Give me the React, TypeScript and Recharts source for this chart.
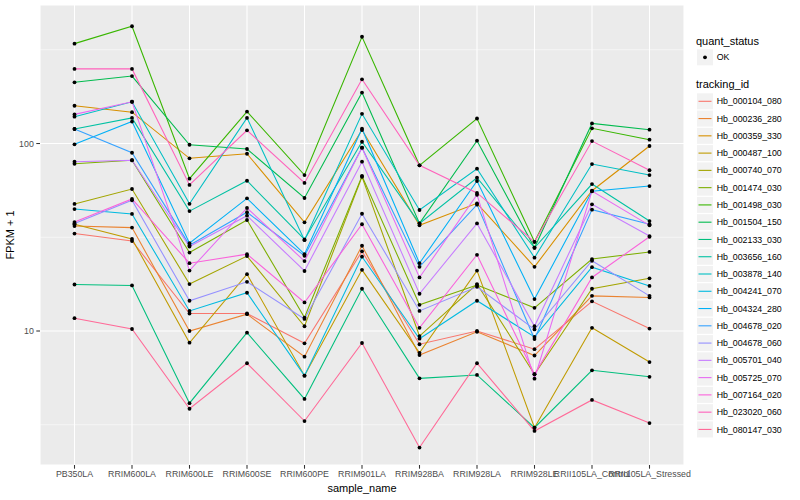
import React from "react";
import { LineChart, Line, XAxis, YAxis, CartesianGrid, ReferenceLine } from "recharts";

const samples = [
  "PB350LA", "RRIM600LA", "RRIM600LE", "RRIM600SE", "RRIM600PE", "RRIM901LA",
  "RRIM928BA", "RRIM928LA", "RRIM928LE", "RRII105LA_Control", "RRII105LA_Stressed",
];

const trackingIds = [
  "Hb_000104_080", "Hb_000236_280", "Hb_000359_330", "Hb_000487_100", "Hb_000740_070",
  "Hb_001474_030", "Hb_001498_030", "Hb_001504_150", "Hb_002133_030", "Hb_003656_160",
  "Hb_003878_140", "Hb_004241_070", "Hb_004324_280", "Hb_004678_020", "Hb_004678_060",
  "Hb_005701_040", "Hb_005725_070", "Hb_007164_020", "Hb_023020_060", "Hb_080147_030",
];

const lineColors = [
  "#F8766D", "#EA8331", "#D89000", "#C09B00", "#A3A500", "#7CAE00", "#39B600", "#00BB4E",
  "#00BF7D", "#00C1A3", "#00BFC4", "#00BAE0", "#00B0F6", "#35A2FF", "#9590FF", "#C77CFF",
  "#E76BF3", "#FA62DB", "#FF62BC", "#FF6A98",
];

// FPKM + 1, one value per sample
const hb000104_080 = [33.1, 30.2, 12.4, 12.4, 8.6, 26.6, 8.5, 10.0, 8.0, 14.4, 10.3];
const hb000236_280 = [36.3, 35.6, 10.0, 12.3, 7.3, 28.5, 7.45, 9.9, 7.4, 15.4, 15.1];
const hb000359_330 = [159, 147, 83.4, 88.2, 38.0, 118, 36.6, 48.0, 22.0, 56.0, 97.0];
const hb000487_100 = [37.1, 31.0, 8.66, 20.1, 5.78, 21.2, 7.65, 21.0, 3.05, 10.4, 6.83];
const hb000740_070 = [47.6, 57.2, 17.8, 25.1, 10.6, 66.5, 9.4, 17.8, 5.88, 16.8, 19.1];
const hb001474_030 = [78.0, 81.4, 26.2, 39.1, 11.8, 67.1, 13.8, 17.6, 13.3, 24.2, 26.4];
const hb001498_030 = [341, 422, 64.9, 148, 67.9, 371, 76.5, 136, 29.9, 120.5, 104.8];
const hb001504_150 = [212, 229, 98.5, 93.5, 51.2, 187, 37.5, 103.5, 27.8, 128, 118.5];
const hb002133_030 = [17.7, 17.5, 4.12, 9.8, 4.34, 16.8, 5.59, 5.83, 3.05, 6.17, 5.7];
const hb003656_160 = [119.5, 137, 43.6, 63.3, 30.8, 102.2, 37.5, 65.7, 27.8, 60.8, 38.6];
const hb003878_140 = [139, 167, 47.7, 137, 30.5, 144, 44.2, 73.4, 24.6, 77.7, 67.9];
const hb004241_070 = [44.7, 42.1, 12.8, 16.0, 5.78, 24.9, 9.1, 14.5, 9.3, 21.9, 17.4];
const hb004324_280 = [99, 131, 29.4, 51, 25.7, 120, 23, 63.1, 14.8, 55.6, 59.3];
const hb004678_020 = [119.5, 89.3, 28.7, 43, 25.2, 95, 22, 47.2, 9.06, 44.4, 37.1];
const hb004678_060 = [37.5, 49.8, 14.5, 18.3, 11.6, 42.2, 12.8, 17.2, 10.2, 23.7, 15.4];
const hb005701_040 = [80, 81.4, 28.2, 41.2, 20.9, 80, 15.8, 37.5, 10.6, 47.4, 32.1];
const hb005725_070 = [143, 167, 21, 45.3, 23.6, 95, 19.3, 53.3, 5.57, 55.8, 36.6];
const hb007164_020 = [38.1, 50.6, 23, 25.7, 14.2, 37.1, 10.4, 25.5, 5.88, 19.3, 31.8];
const hb023020_060 = [250, 250, 60.1, 117.6, 61.6, 220, 76.5, 54.5, 29.9, 103, 72];
const hb080147_030 = [11.7, 10.25, 3.85, 6.73, 3.31, 8.63, 2.39, 6.73, 2.93, 4.29, 3.23];

const seriesValues = [
  hb000104_080, hb000236_280, hb000359_330, hb000487_100, hb000740_070,
  hb001474_030, hb001498_030, hb001504_150, hb002133_030, hb003656_160,
  hb003878_140, hb004241_070, hb004324_280, hb004678_020, hb004678_060,
  hb005701_040, hb005725_070, hb007164_020, hb023020_060, hb080147_030,
];

const majorTicks = [10, 100];
const minorTicks = [3.1623, 31.623, 316.23];

const rows = samples.map((s, i) => {
  const r: Record<string, any> = { sample_name: s };
  trackingIds.forEach((id, k) => {
    r[id] = seriesValues[k][i];
  });
  return r;
});

const FONT = '"Liberation Sans", Arial, Helvetica, sans-serif';

function LegendBox() {
  const rowTop = 93.3;
  const rowStep = 17.27;
  return (
    <svg width={800} height={500} style={{ position: "absolute", left: 0, top: 0, pointerEvents: "none" }}>
      <text x={362} y={492} textAnchor="middle" fontSize={11} fill="#000" fontFamily={FONT}>sample_name</text>
      <text x={0} y={0} transform="translate(14,235) rotate(-90)" textAnchor="middle" fontSize={11} fill="#000" fontFamily={FONT}>FPKM + 1</text>

      <text x={696} y={45} fontSize={11} fill="#000" fontFamily={FONT}>quant_status</text>
      <rect x={697} y={49.3} width={16} height={16} fill="#F2F2F2" />
      <circle cx={705} cy={57.3} r={1.9} fill="#000" />
      <text x={716.7} y={60.4} fontSize={8.8} fill="#000" fontFamily={FONT}>OK</text>

      <text x={696} y={88} fontSize={11} fill="#000" fontFamily={FONT}>tracking_id</text>
      {trackingIds.map((id, k) => {
        const top = rowTop + k * rowStep;
        return (
          <g key={id}>
            <rect x={697} y={top} width={16} height={16} fill="#F2F2F2" />
            <line x1={698.5} x2={711.5} y1={top + 8} y2={top + 8} stroke={lineColors[k]} strokeWidth={1.1} />
            <text x={716.7} y={top + 11.1} fontSize={8.8} fill="#000" fontFamily={FONT}>{id}</text>
          </g>
        );
      })}
    </svg>
  );
}

export default function App() {
  return (
    <div style={{ position: "absolute", left: 0, top: 0, width: 800, height: 500, background: "#fff", fontFamily: FONT }}>
      <LineChart width={800} height={500} data={rows} margin={{ top: 5, right: 116, bottom: 0, left: 0 }}>
        <CartesianGrid fill="#EBEBEB" stroke="#FFFFFF" strokeWidth={1.07} />
        {minorTicks.map((v) => (
          <ReferenceLine key={v} y={v} stroke="#FFFFFF" strokeWidth={0.53} ifOverflow="hidden" />
        ))}
        <XAxis
          dataKey="sample_name"
          padding={{ left: 34.5, right: 34.5 }}
          interval={0}
          axisLine={false}
          tickLine={{ stroke: "#333333", strokeWidth: 1.07 }}
          tickSize={3.7}
          tickMargin={2.2}
          tick={{ fill: "#4D4D4D", fontSize: 8.8 }}
          height={35}
        />
        <YAxis
          scale="log"
          domain={[1.929, 548]}
          allowDataOverflow
          ticks={majorTicks}
          width={40}
          axisLine={false}
          tickLine={{ stroke: "#333333", strokeWidth: 1.07 }}
          tickSize={3.7}
          tickMargin={2.5}
          tick={{ fill: "#4D4D4D", fontSize: 8.8 }}
        />
        {trackingIds.map((id, k) => (
          <Line
            key={id}
            type="linear"
            dataKey={id}
            stroke={lineColors[k]}
            strokeWidth={1.07}
            dot={false}
            activeDot={false}
            isAnimationActive={false}
          />
        ))}
        {trackingIds.map((id) => (
          <Line
            key={id + "_pt"}
            type="linear"
            dataKey={id}
            stroke="none"
            dot={{ r: 1.9, fill: "#000000", stroke: "none", strokeWidth: 0 }}
            activeDot={false}
            isAnimationActive={false}
          />
        ))}
      </LineChart>
      <LegendBox />
    </div>
  );
}
